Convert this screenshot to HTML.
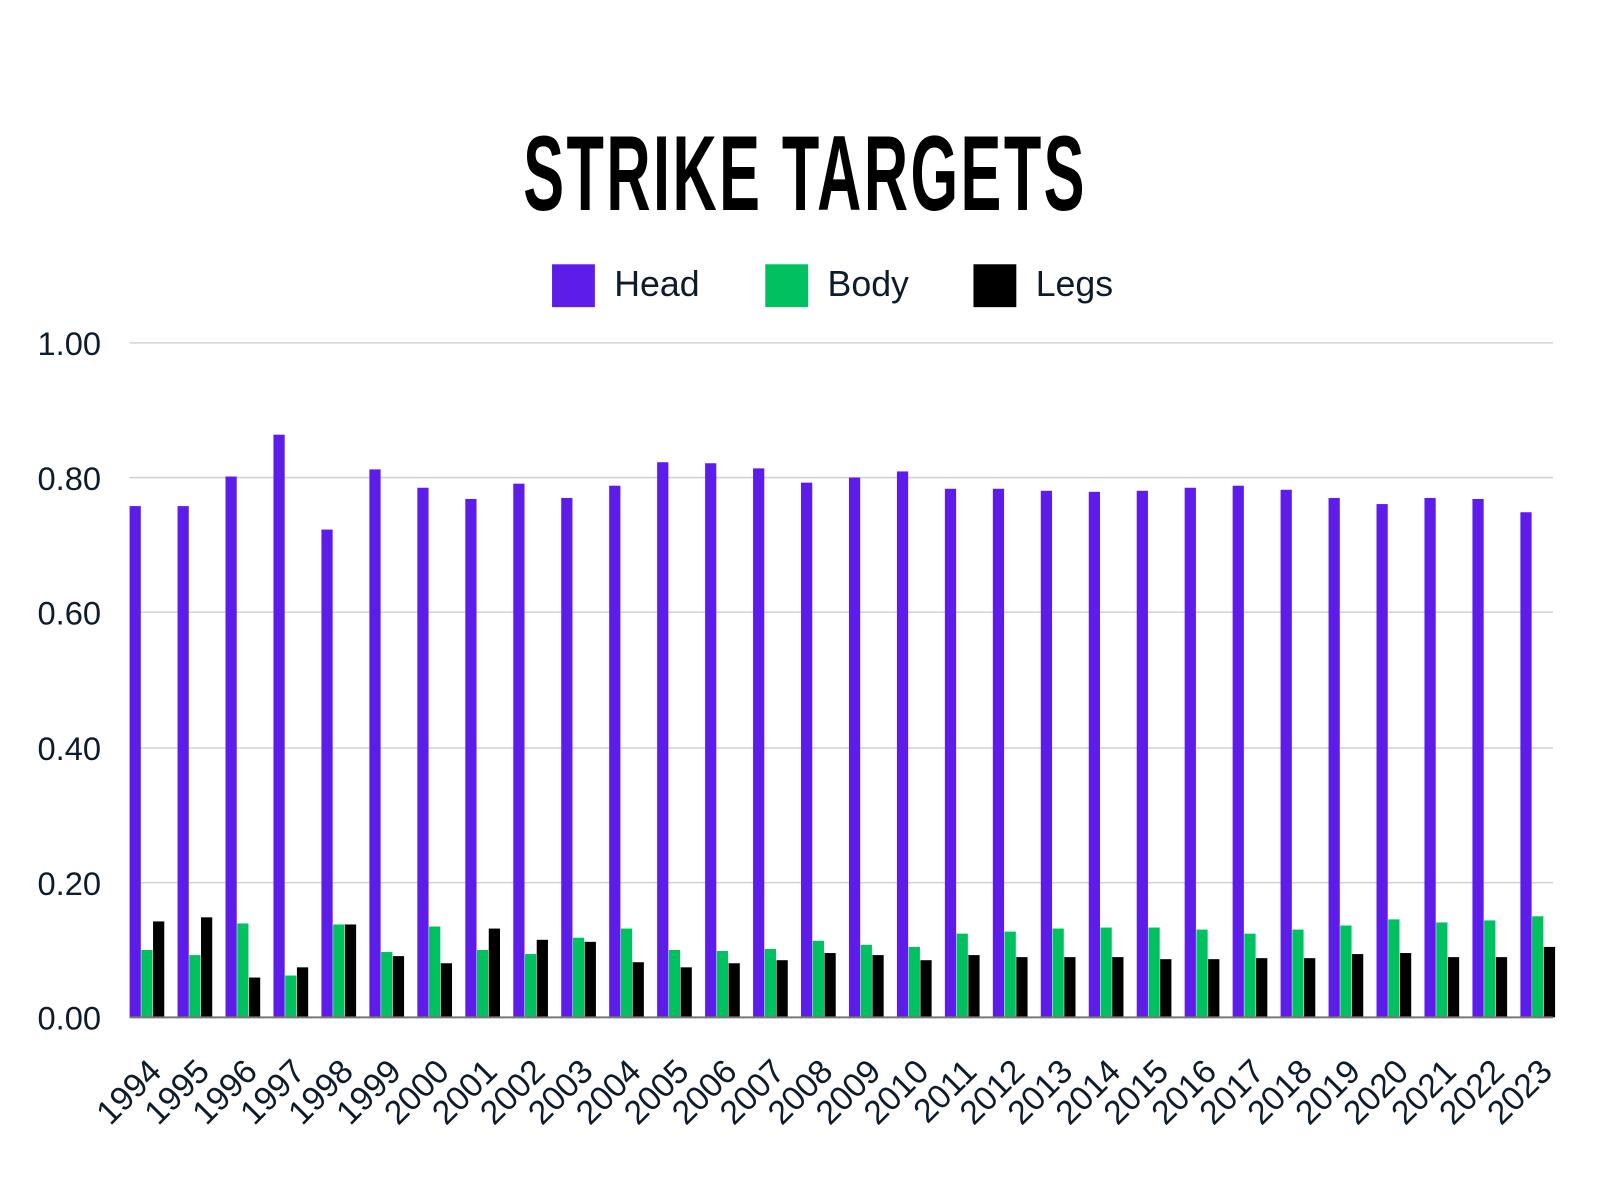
<!DOCTYPE html>
<html><head><meta charset="utf-8"><style>
html,body{margin:0;padding:0;background:#fff;}
svg{display:block;}
</style></head><body>
<svg width="1600" height="1200" viewBox="0 0 1600 1200" xmlns="http://www.w3.org/2000/svg" font-family="Liberation Sans, sans-serif">
<rect width="1600" height="1200" fill="#fff"/>
<g transform="scale(1.0204)">
<text x="0" y="0" text-anchor="middle" font-weight="bold" font-size="100" letter-spacing="4" fill="#000" transform="translate(789,206) scale(0.6,1.05)">STRIKE TARGETS</text>
<rect x="541" y="259" width="42" height="42" fill="#5e1ceb"/>
<text x="602" y="290" font-size="35" fill="#0d1b2a">Head</text>
<rect x="750" y="259" width="42" height="42" fill="#00c060"/>
<text x="811" y="290" font-size="35" fill="#0d1b2a">Body</text>
<rect x="954" y="259" width="42" height="42" fill="#000"/>
<text x="1015" y="290" font-size="35" fill="#0d1b2a">Legs</text>
<g stroke="#cfd2d6" stroke-width="1.5">
<line x1="127" y1="336" x2="1522" y2="336"/><line x1="127" y1="468" x2="1522" y2="468"/><line x1="127" y1="600" x2="1522" y2="600"/><line x1="127" y1="733" x2="1522" y2="733"/><line x1="127" y1="865" x2="1522" y2="865"/>
</g>
<g font-size="32" fill="#0d1b2a" text-anchor="end">
<text x="99" y="348">1.00</text><text x="99" y="480">0.80</text><text x="99" y="612">0.60</text><text x="99" y="745">0.40</text><text x="99" y="877">0.20</text><text x="99" y="1009">0.00</text>
</g>
<g id="bars"></g>
<line x1="127" y1="997" x2="1522" y2="997" stroke="#777" stroke-width="2"/>
<g id="labels" font-size="33" fill="#0d1b2a" text-anchor="end"></g>
</g>
</svg>
<script>
var H=[496,496,467,426,519,460,478,489,474,488,476,453,454,459,473,468,462,479,479,481,482,481,478,476,480,488,494,488,489,502];
var B=[931,936,905,956,906,933,908,931,935,919,910,931,932,930,922,926,928,915,913,910,909,909,911,915,911,907,901,904,902,898];
var L=[903,899,958,948,906,937,944,910,921,923,943,948,944,941,934,936,941,936,938,938,938,940,940,939,939,935,934,938,938,928];
var ns="http://www.w3.org/2000/svg",g=document.getElementById("bars"),lg=document.getElementById("labels");
function r(x,t,c){var e=document.createElementNS(ns,"rect");e.setAttribute("x",x);e.setAttribute("y",t);e.setAttribute("width",11);e.setAttribute("height",997-t);e.setAttribute("fill",c);g.appendChild(e);}
for(var i=0;i<30;i++){var x=127+47*i;r(x,H[i],"#5e1ceb");r(x+11.5,B[i],"#00c060");r(x+23,L[i],"#000");
var t=document.createElementNS(ns,"text");var ax=160+47*i,ay=1052;t.setAttribute("x",ax);t.setAttribute("y",ay);t.setAttribute("transform","rotate(-45 "+ax+" "+ay+")");t.textContent=1994+i;lg.appendChild(t);}
</script>
</body></html>
